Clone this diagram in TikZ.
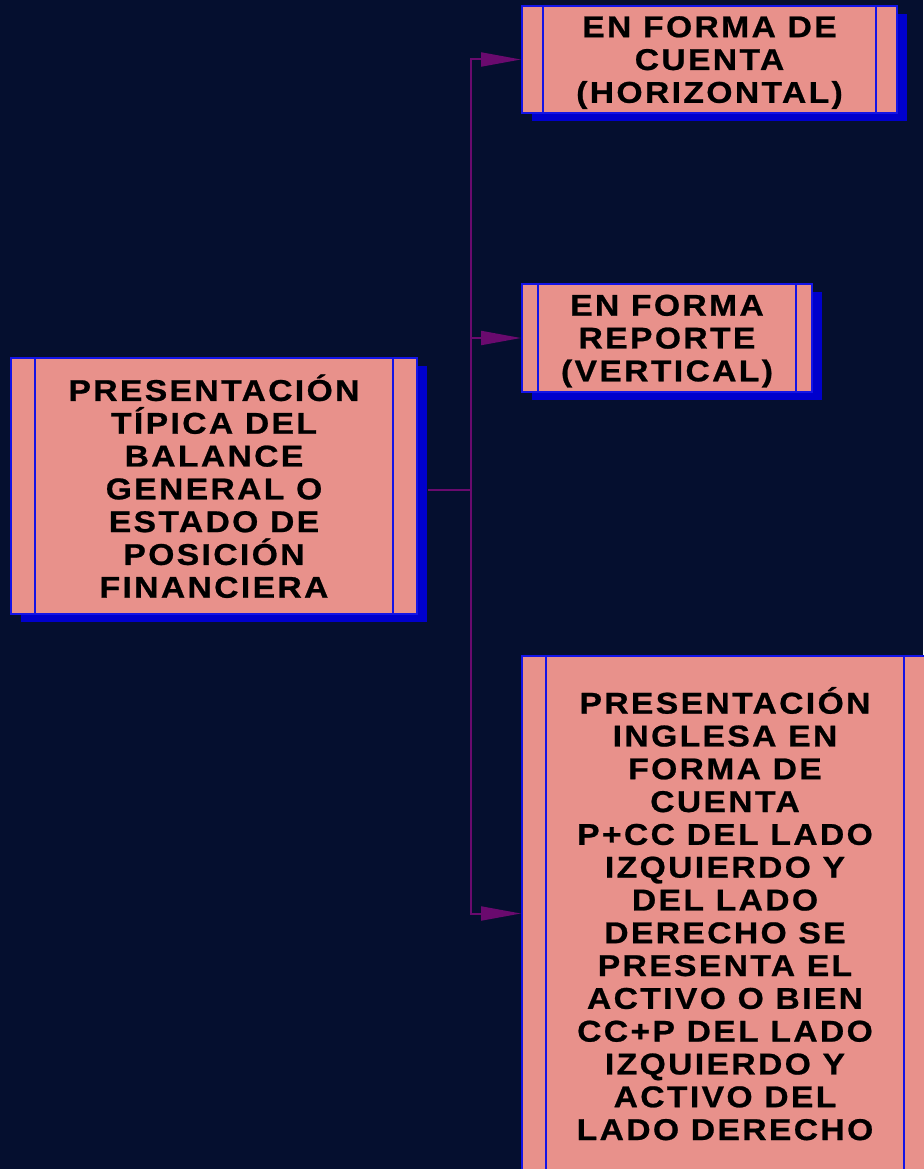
\documentclass[tikz,border=0pt]{standalone}
\usepackage{fontspec}
\usetikzlibrary{arrows.meta,shadows}
\newfontfamily\boxfont[FakeStretch=1.12,LetterSpace=8,FakeBold=0.8]{Liberation Sans}
\definecolor{bgnavy}{HTML}{050F2F}
\definecolor{boxfill}{HTML}{E8918B}
\definecolor{boxline}{HTML}{1414E6}
\definecolor{shadowblue}{HTML}{0000CC}
\definecolor{connpurple}{HTML}{6A0A6E}
\tikzset{
  box/.style={rectangle, draw=boxline, line width=2pt, fill=boxfill, inner sep=0pt,
    align=center, text=black, text depth=0pt, font=\boxfont\bfseries\fontsize{30}{32.8}\selectfont,
    drop shadow={shadow xshift=10pt, shadow yshift=-8pt, fill=shadowblue, opacity=1}},
  strip/.style={draw=boxline, line width=2pt},
  conn/.style={draw=connpurple, line width=2pt},
  tip/.style={-{Triangle[length=40pt,width=14pt]}, conn}
}
\begin{document}
\begin{tikzpicture}[x=1pt,y=-1pt]
\fill[bgnavy] (0,0) rectangle (923,1169);
\useasboundingbox (0,0) rectangle (923,1169);
\node[box, minimum width=406pt, minimum height=256pt] (L) at (214,486)
  {PRESENTACIÓN\\TÍPICA DEL\\BALANCE\\GENERAL O\\ESTADO DE\\POSICIÓN\\FINANCIERA};
\node[box, minimum width=375pt, minimum height=107pt] (T) at (709.5,59.5)
  {EN FORMA DE\\CUENTA\\(HORIZONTAL)};
\node[box, minimum width=290pt, minimum height=108pt] (M) at (667,338)
  {EN FORMA\\REPORTE\\(VERTICAL)};
\node[box, minimum width=406pt, minimum height=515pt] (B) at (725,913.5)
  {PRESENTACIÓN\\INGLESA EN\\FORMA DE\\CUENTA\\P+CC DEL LADO\\IZQUIERDO Y\\DEL LADO\\DERECHO SE\\PRESENTA EL\\ACTIVO O BIEN\\CC+P DEL LADO\\IZQUIERDO Y\\ACTIVO DEL\\LADO DERECHO};
\foreach \n/\d in {L/25,T/22,M/17,B/25}{
  \draw[strip] ([xshift=\d pt]\n.north west) -- ([xshift=\d pt]\n.south west);
  \draw[strip] ([xshift=-\d pt]\n.north east) -- ([xshift=-\d pt]\n.south east);
}
\coordinate (hub) at (471,490);
\draw[conn] ([xshift=10pt,yshift=-4pt]L.east) -- (hub);
\draw[tip] (hub) |- (T.west);
\draw[tip] (hub) |- (M.west);
\draw[tip] (hub) |- (B.west);
\end{tikzpicture}
\end{document}
